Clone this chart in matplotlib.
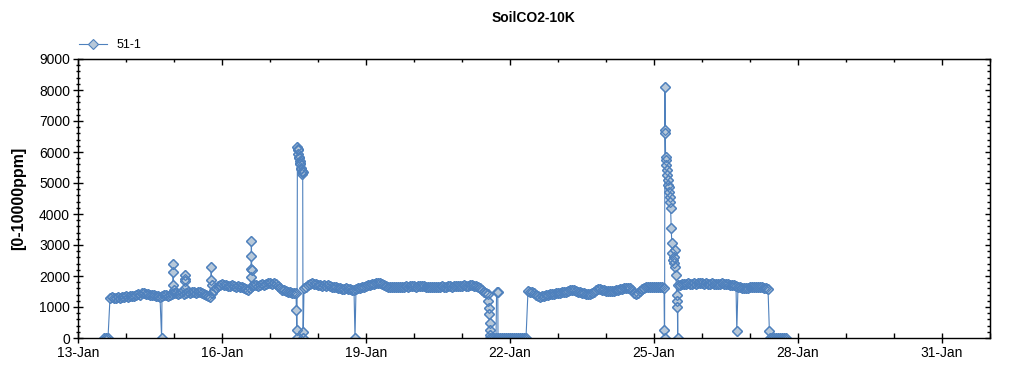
"""SoilCO2-10K sensor trace (station 51-1), 13-Jan .. 1-Feb."""
import numpy as np
import pandas as pd
import matplotlib
matplotlib.use('Agg')
import matplotlib.pyplot as plt
import matplotlib.dates as mdates
from matplotlib.ticker import MultipleLocator

plt.rcParams['font.family'] = ['Liberation Sans', 'DejaVu Sans']

START = pd.Timestamp('2014-01-13')
END = pd.Timestamp('2014-02-01')
FIRST_HOUR = 13          # first hourly reading, hours after 13-Jan 00:00
nan = np.nan

# hourly readings [ppm], one row per day; NaN = hour covered by EXTRA_* readings
HOURLY_PPM = [
    # 13-Jan (from 13:00)
    0, 0, 0, 1290, 1310, 1280, 1300, 1320, 1290, 1330, 1310,
    # 14-Jan
    1340, 1320, 1350, 1370, 1360, 1390, 1410, 1400, 1440, 1460, 1430, 1420,
    1400, 1380, 1390, 1350, 1340, 1320, 1360, 1400, 1380, 1370, 1390, 1420,
    # 15-Jan
    1440, 1460, 1420, 1450, 1470, 1430, 1460, 1480, 1450, 1470, 1500, 1460,
    1480, 1490, 1450, 1420, 1380, 1340, 1320, 1450, 1560, 1620, 1680, 1710,
    # 16-Jan
    1730, 1700, 1720, 1690, 1670, 1700, 1680, 1660, 1680, 1650, 1640, 1600,
    1570, 1550, 1600, 1680, 1700, 1720, 1690, 1710, 1740, 1720, 1750, 1760,
    # 17-Jan
    1770, 1750, 1780, 1740, 1680, 1600, 1550, 1540, 1510, 1490, 1470, 1450,
    1440, 1460, nan, nan, nan, 1600, 1650, 1700, 1740, 1770, 1750, 1730,
    # 18-Jan
    1720, 1700, 1690, 1710, 1680, 1700, 1680, 1660, 1650, 1640, 1620, 1600,
    1590, 1580, 1600, 1590, 1570, 1560, 1550, 1580, 1600, 1620, 1640, 1660,
    # 19-Jan
    1680, 1700, 1720, 1740, 1750, 1760, 1770, 1770, 1740, 1700, 1680, 1660,
    1650, 1640, 1650, 1660, 1640, 1650, 1660, 1650, 1670, 1660, 1680, 1670,
    # 20-Jan
    1680, 1660, 1670, 1680, 1690, 1670, 1660, 1650, 1640, 1660, 1650, 1640,
    1650, 1660, 1670, 1650, 1660, 1680, 1670, 1660, 1680, 1690, 1670, 1680,
    # 21-Jan
    1690, 1700, 1680, 1690, 1710, 1700, 1690, 1680, 1650, 1600, 1540, 1480,
    1440, 1420, 0, 0, 0, 0, 0, 0, 0, 0, 0, 0,
    # 22-Jan
    0, 0, 0, 0, 0, 0, 0, 0, 0, 1520, 1500, 1480,
    1450, 1400, 1360, 1320, 1340, 1360, 1380, 1400, 1420, 1410, 1430, 1440,
    # 23-Jan
    1450, 1450, 1470, 1480, 1500, 1520, 1540, 1550, 1550, 1530, 1500, 1480,
    1460, 1440, 1430, 1420, 1420, 1460, 1500, 1540, 1570, 1580, 1560, 1540,
    # 24-Jan
    1530, 1520, 1510, 1520, 1520, 1540, 1560, 1570, 1590, 1600, 1610, 1600,
    1610, 1540, 1460, 1420, 1460, 1520, 1580, 1610, 1630, 1640, 1650, 1640,
    # 25-Jan
    1650, 1640, 1660, 1650, 1630, 1600, nan, nan, nan, nan, nan, nan,
    1700, 1720, 1740, 1750, 1730, 1760, 1750, 1740, 1760, 1750, 1770, 1760,
    # 26-Jan
    1770, 1750, 1760, 1740, 1750, 1760, 1740, 1730, 1750, 1740, 1760, 1750,
    1740, 1730, 1720, 1710, 1700, 1690, 1660, 1640, 1620, 1600, 1610, 1620,
    # 27-Jan (to 18:00)
    1640, 1630, 1650, 1660, 1640, 1650, 1630, 1620, 1600, 1580,
    0, 0, 0, 0, 0, 0, 0, 0, 0,
]

# sub-hourly readings around spikes and drop-outs [hours after 13-Jan 00:00]
EXTRA_HOURS = [
    41.8,
    47.4, 47.5, 47.6, 47.8,
    53.3, 53.4, 53.55, 53.7,
    66.5, 66.6, 66.8,
    86.4, 86.5, 86.6, 86.7, 86.85,
    109.2, 109.35, 109.5, 109.7, 109.85, 110.0, 110.2, 110.4, 110.6, 110.8,
    111.0, 111.2, 111.4, 111.6, 111.8, 112.0, 112.2, 112.35, 112.5, 112.6,
    138.5,
    205.2, 205.4, 205.6, 205.75, 205.85, 205.95,
    209.3, 209.9,
    293.2, 293.3, 293.45, 293.55, 293.65, 293.8, 294.0, 294.2, 294.4, 294.6,
    294.9, 295.2, 295.5, 295.7, 295.9, 296.1, 296.3, 296.6, 296.9, 297.2,
    297.5, 297.8, 298.1, 298.4, 298.7, 299.0, 299.3, 299.5, 299.7, 299.85,
    329.4,
    345.7,
]
EXTRA_PPM = [
    0,
    1700, 2140, 2380, 1550,
    1900, 2030, 1850, 1600,
    1870, 2280, 1700,
    1980, 2220, 2650, 3140, 2200,
    900, 250, 0, 6150, 6100, 6050, 5950, 5850, 5800, 5700,
    5650, 5600, 5500, 5450, 5400, 5350, 5300, 5350, 200, 0,
    0,
    1200, 980, 760, 470, 260, 100,
    1490, 1480,
    250, 0, 8100, 6700, 6600, 5850, 5740, 5580, 5420, 5260,
    5100, 4940, 4880, 4720, 4560, 4400, 4190, 3550, 3060, 2740,
    2520, 2420, 2610, 2840, 2290, 2030, 1390, 1200, 1010, 0,
    220,
    220,
]

LINE_BLUE = '#4f81bd'
FILL_BLUE = '#b7c8d9'


def build_series():
    hourly = np.asarray(HOURLY_PPM, dtype=float)
    h_hours = FIRST_HOUR + np.arange(len(hourly))
    keep = ~np.isnan(hourly)
    hours = np.concatenate([h_hours[keep], EXTRA_HOURS])
    ppm = np.concatenate([hourly[keep], EXTRA_PPM])
    order = np.argsort(hours, kind='mergesort')
    t = START + pd.to_timedelta(hours[order], unit='h')
    return t.to_pydatetime(), ppm[order]


def main():
    t, ppm = build_series()

    fig = plt.figure(figsize=(10.24, 3.75), dpi=100)
    ax = fig.add_axes([78 / 1024, 1 - 338 / 375, 912 / 1024, 279 / 375])

    ax.plot(t, ppm, color=LINE_BLUE, lw=0.8, marker='D', ms=5.4,
            mfc=FILL_BLUE, mec=LINE_BLUE, mew=0.8, label='51-1')
    # marker outlines on top, so dense stretches read as a solid blue band
    ax.plot(t, ppm, ls='none', marker='D', ms=5.4, mfc='none',
            mec=LINE_BLUE, mew=0.9)

    ax.set_xlim(START, END)
    ax.set_ylim(0, 9000)

    major_days = mdates.DayLocator(bymonthday=[13, 16, 19, 22, 25, 28, 31])
    ax.xaxis.set_major_locator(major_days)
    ax.xaxis.set_minor_locator(mdates.DayLocator())
    ax.xaxis.set_major_formatter(mdates.DateFormatter('%d-%b'))
    ax.yaxis.set_major_locator(MultipleLocator(1000))
    ax.yaxis.set_minor_locator(MultipleLocator(200))

    ax.tick_params(axis='x', which='major', direction='inout', length=7,
                   width=1, labelsize=10, pad=2)
    ax.tick_params(axis='x', which='minor', direction='in', length=3.5,
                   width=1)
    ax.tick_params(axis='y', which='major', direction='inout', length=7.5,
                   width=1, labelsize=10, pad=2)
    ax.tick_params(axis='y', which='minor', direction='inout', length=3.5,
                   width=1)

    # top / right: inward ticks, no labels
    top = ax.secondary_xaxis('top')
    top.xaxis.set_major_locator(
        mdates.DayLocator(bymonthday=[13, 16, 19, 22, 25, 28, 31]))
    top.xaxis.set_minor_locator(mdates.DayLocator())
    top.tick_params(which='major', direction='in', length=4, width=1,
                    labeltop=False)
    top.tick_params(which='minor', direction='in', length=2.5, width=1)
    right = ax.secondary_yaxis('right')
    right.yaxis.set_major_locator(MultipleLocator(1000))
    right.yaxis.set_minor_locator(MultipleLocator(200))
    right.tick_params(which='major', direction='in', length=3.5, width=1,
                      labelright=False)
    right.tick_params(which='minor', direction='in', length=2, width=1)

    for sp in ax.spines.values():
        sp.set_linewidth(1)

    ax.set_ylabel('[0-10000ppm]', fontsize=11.5, fontweight='bold',
                  labelpad=9)
    fig.text(534 / 1024, 1 - 18 / 375, 'SoilCO2-10K', ha='center',
             va='center', fontsize=10, fontweight='bold')

    fig.legend(loc='center left', bbox_to_anchor=(79 / 1024, 1 - 45 / 375),
               frameon=False, fontsize=9, handlelength=2.2,
               handletextpad=0.8, borderpad=0, borderaxespad=0, numpoints=1)

    fig.savefig('out.png', dpi=100)
    plt.close(fig)


if __name__ == '__main__':
    main()
